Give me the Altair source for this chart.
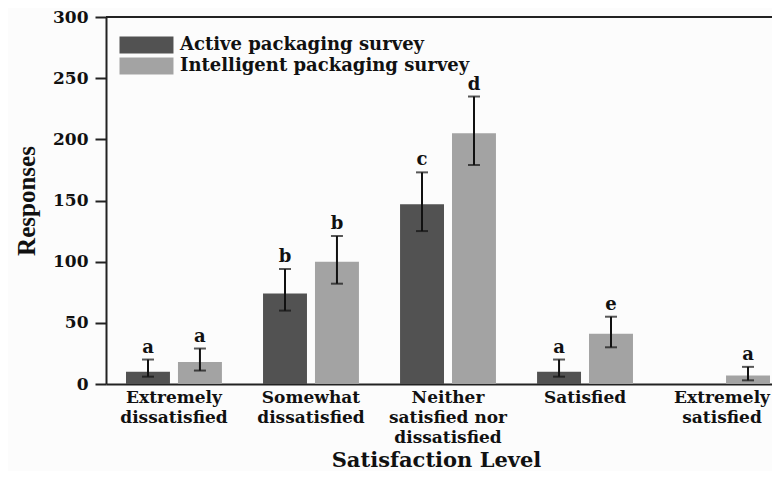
import altair as alt
import pandas as pd

categories = [
    "Extremely\ndissatisfied",
    "Somewhat\ndissatisfied",
    "Neither\nsatisfied nor\ndissatisfied",
    "Satisfied",
    "Extremely\nsatisfied",
]
series = ["Active packaging survey", "Intelligent packaging survey"]

active_values = [10, 74, 147, 10, 0]
active_low = [6, 60, 125, 6, None]
active_high = [20, 94, 173, 20, None]
active_letters = ["a", "b", "c", "a", ""]

intel_values = [18, 100, 205, 41, 7]
intel_low = [11, 82, 179, 30, 3]
intel_high = [29, 121, 235, 55, 14]
intel_letters = ["a", "b", "d", "e", "a"]

colors = ["#525252", "#a3a3a3"]

rows = []
for i, c in enumerate(categories):
    rows.append(dict(cat=c, series=series[0], value=active_values[i],
                     low=active_low[i], high=active_high[i], letter=active_letters[i]))
    rows.append(dict(cat=c, series=series[1], value=intel_values[i],
                     low=intel_low[i], high=intel_high[i], letter=intel_letters[i]))
df = pd.DataFrame(rows)
err = df.dropna(subset=["low", "high"])

FONT = "DejaVu Serif"

x_enc = alt.X(
    "cat:N",
    sort=categories,
    scale=alt.Scale(range=[0, 684], paddingInner=0.3, paddingOuter=0.146),
    axis=alt.Axis(
        title="Satisfaction Level",
        labelAngle=0,
        labelExpr="split(datum.label, '\\n')",
        labelFont=FONT,
        labelFontWeight="bold",
        labelFontSize=17,
        labelLineHeight=20,
        labelColor="#111",
        labelPadding=5,
        ticks=False,
        domainColor="#222",
        domainWidth=2,
        titleFont=FONT,
        titleFontWeight="bold",
        titleFontSize=21,
        titleColor="#111",
        titlePadding=4,
        titleX=330,
    ),
)
xoff = alt.XOffset("series:N", sort=series,
                   scale=alt.Scale(paddingInner=0.154, paddingOuter=0))

y_scale = alt.Scale(domain=[0, 300], nice=False)

bars = alt.Chart(df).mark_bar().encode(
    x=x_enc,
    xOffset=xoff,
    y=alt.Y(
        "value:Q",
        scale=y_scale,
        axis=alt.Axis(
            title="Responses",
            values=list(range(0, 301, 25)),
            labelExpr="datum.value % 50 == 0 ? datum.label : ''",
            tickSize={"condition": {"test": "datum.value % 50 == 0", "value": 11}, "value": 6},
            tickWidth=2,
            tickColor="#222",
            grid=False,
            domainColor="#222",
            domainWidth=2,
            labelFont=FONT,
            labelFontWeight="bold",
            labelFontSize=17,
            labelColor="#111",
            labelPadding=7,
            titleFont="Liberation Serif",
            titleFontWeight="bold",
            titleFontSize=25,
            titleColor="#111",
            titlePadding=13,
        ),
    ),
    color=alt.Color(
        "series:N",
        sort=series,
        scale=alt.Scale(domain=series, range=colors),
        legend=alt.Legend(
            title=None,
            orient="none",
            legendX=13,
            legendY=19,
            padding=0,
            symbolType="M-1,-1H5.35V1H-1Z",
            symbolSize=289,
            symbolStrokeWidth=0,
            symbolOpacity=1,
            labelOffset=43,
            labelLimit=0,
            rowPadding=3,
            labelFont=FONT,
            labelFontWeight="bold",
            labelFontSize=18,
            labelColor="#111",
        ),
    ),
)

rules = alt.Chart(err).mark_rule(color="#111", strokeWidth=2).encode(
    x=alt.X("cat:N", sort=categories), xOffset=xoff,
    y=alt.Y("low:Q", scale=y_scale), y2="high:Q",
)
caps_hi = alt.Chart(err).mark_tick(color="#111", thickness=2, size=12).encode(
    x=alt.X("cat:N", sort=categories), xOffset=xoff, y=alt.Y("high:Q", scale=y_scale),
)
caps_lo = alt.Chart(err).mark_tick(color="#111", thickness=2, size=12).encode(
    x=alt.X("cat:N", sort=categories), xOffset=xoff, y=alt.Y("low:Q", scale=y_scale),
)
letters = alt.Chart(err).mark_text(
    font=FONT, fontWeight="bold", fontSize=18, color="#111", baseline="bottom", dy=-3
).encode(
    x=alt.X("cat:N", sort=categories), xOffset=xoff, y=alt.Y("high:Q", scale=y_scale),
    text="letter:N",
)
top_line = alt.Chart(alt.Data(values=[{}])).mark_rule(color="#222", strokeWidth=2).encode(
    y=alt.datum(300, scale=y_scale), x=alt.value(0), x2=alt.value(684),
)

chart = (
    alt.layer(bars, rules, caps_hi, caps_lo, letters, top_line)
    .properties(
        width=666,
        height=367,
        autosize=alt.AutoSizeParams(type="none"),
        padding={"left": 98, "top": 9, "right": 0, "bottom": 87},
        background="#fcfcfc",
    )
    .configure_view(stroke=None)
)

chart.save("out.html", embed_options={"renderer": "svg", "actions": False})
